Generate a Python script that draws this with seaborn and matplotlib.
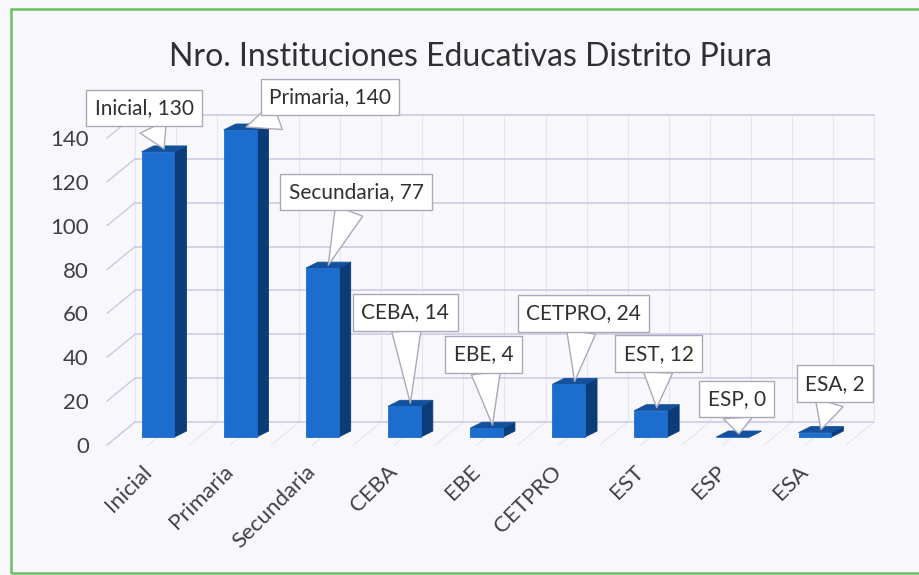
import matplotlib.pyplot as plt
import seaborn as sns
from matplotlib.patches import Polygon, Rectangle
from matplotlib.transforms import ScaledTranslation

# datos
categorias = ['Inicial', 'Primaria', 'Secundaria', 'CEBA', 'EBE', 'CETPRO', 'EST', 'ESP', 'ESA']
instituciones = [130, 140, 77, 14, 4, 24, 12, 0, 2]
yticks = [0, 20, 40, 60, 80, 100, 120, 140]
titulo = 'Nro. Instituciones Educativas Distrito Piura'

# posicion de cada globo (pixeles respecto a la cara superior de la barra)
globos = [(-20, 41), (84, 30), (28, 73), (-5, 91), (-9, 71), (9, 68), (2, 54), (-2, 35), (14, 46)]

sns.set_theme(style='white')
plt.rcParams['font.family'] = ['Lato', 'DejaVu Sans']

W, H = 920, 575
fig = plt.figure(figsize=(W / 100, H / 100), dpi=100)
fig.patch.set_facecolor('#f8f8fc')
fig.patches.append(Rectangle((11 / W, 1 - 573 / H), 1.0, (573 - 9) / H, transform=fig.transFigure,
                             fill=False, ec='#6cbf62', lw=1.8))

ax = fig.add_axes([107 / W, (H - 445) / H, 739 / W, 307 / H])
ax.set_facecolor('none')
ax.set_xlim(-0.5, 8.5)
ax.set_ylim(0, 140)

# pixeles -> unidades de datos
sx = 739 / 9
sy = 307 / 140
def off(dx, dy):
    return dx / sx, -dy / sy

Dx, Dy = off(28, -23)    # profundidad de las paredes
fdx, fdy = off(10, -8)   # cara frontal de las barras
bdx, bdy = off(12, -6)   # profundidad de las barras

grid = '#c9c9e2'
faint = '#e6e6f0'
for v in yticks:
    ax.plot([-0.5 + Dx, 8.5 + Dx], [v + Dy, v + Dy], color=grid, lw=1.1, clip_on=False, zorder=1)
    ax.plot([-0.5, -0.5 + Dx], [v, v + Dy], color=grid, lw=1.0, clip_on=False, zorder=1)
for k in range(19):
    xk = -0.5 + 0.5 * k
    ax.plot([xk + Dx, xk + Dx], [Dy, 140 + Dy], color=faint, lw=0.9, clip_on=False, zorder=0.5)
    ax.plot([xk, xk + Dx], [0, Dy], color=faint, lw=0.9, clip_on=False, zorder=0.5)

frente = '#1c6dcd'
lado = '#0c3c78'
tapa = '#14519c'
sns.barplot(x=categorias, y=instituciones, color=frente, saturation=1, width=0.4, ax=ax, zorder=4)

for i, p in enumerate(ax.patches):
    x0 = p.get_x() + fdx
    w = p.get_width()
    h = p.get_height()
    p.set_xy((x0, fdy))
    p.set_clip_on(False)
    p.set_edgecolor(frente)
    p.set_linewidth(0.6)
    x1 = x0 + w
    y0, y1 = fdy, fdy + h
    ax.add_patch(Polygon([(x1, y0), (x1, y1), (x1 + bdx, y1 + bdy), (x1 + bdx, y0 + bdy)],
                         closed=True, fc=lado, ec=lado, lw=0.6, zorder=3, clip_on=False))
    ax.add_patch(Polygon([(x0, y1), (x1, y1), (x1 + bdx, y1 + bdy), (x0 + bdx, y1 + bdy)],
                         closed=True, fc=tapa, ec=tapa, lw=0.6, zorder=3, clip_on=False))
    ax.annotate(f'{categorias[i]}, {instituciones[i]}',
                xy=(x0 + w / 2 + bdx / 2, y1 + bdy / 2), xytext=globos[i],
                textcoords='offset pixels', ha='center', va='center', fontsize=15,
                color='#303030', zorder=6, annotation_clip=False,
                bbox=dict(boxstyle='square,pad=0.4', fc='white', ec='#a9a9bb', lw=1),
                arrowprops=dict(arrowstyle='wedge,tail_width=1.4,shrink_factor=0.5',
                                fc='white', ec='#a9a9bb', lw=1, shrinkA=0, shrinkB=0))

ax.set_xticks(range(len(categorias)))
ax.set_xticklabels(categorias, rotation=45, ha='right', rotation_mode='anchor')
ax.set_yticks(yticks)
ax.tick_params(axis='both', length=0, labelsize=16, colors='#404040')
ax.tick_params(axis='x', pad=12)
ax.tick_params(axis='y', pad=13)
for lab in ax.get_xticklabels():
    lab.set_transform(lab.get_transform() + ScaledTranslation(-0.07, 0, fig.dpi_scale_trans))
for s in ax.spines.values():
    s.set_visible(False)
ax.set_xlabel('')
ax.set_ylabel('')

fig.text(471 / W, 1 - 57 / H, titulo, ha='center', va='center', fontsize=23, color='#303030')

fig.savefig('out.png', dpi=100, facecolor=fig.get_facecolor())
